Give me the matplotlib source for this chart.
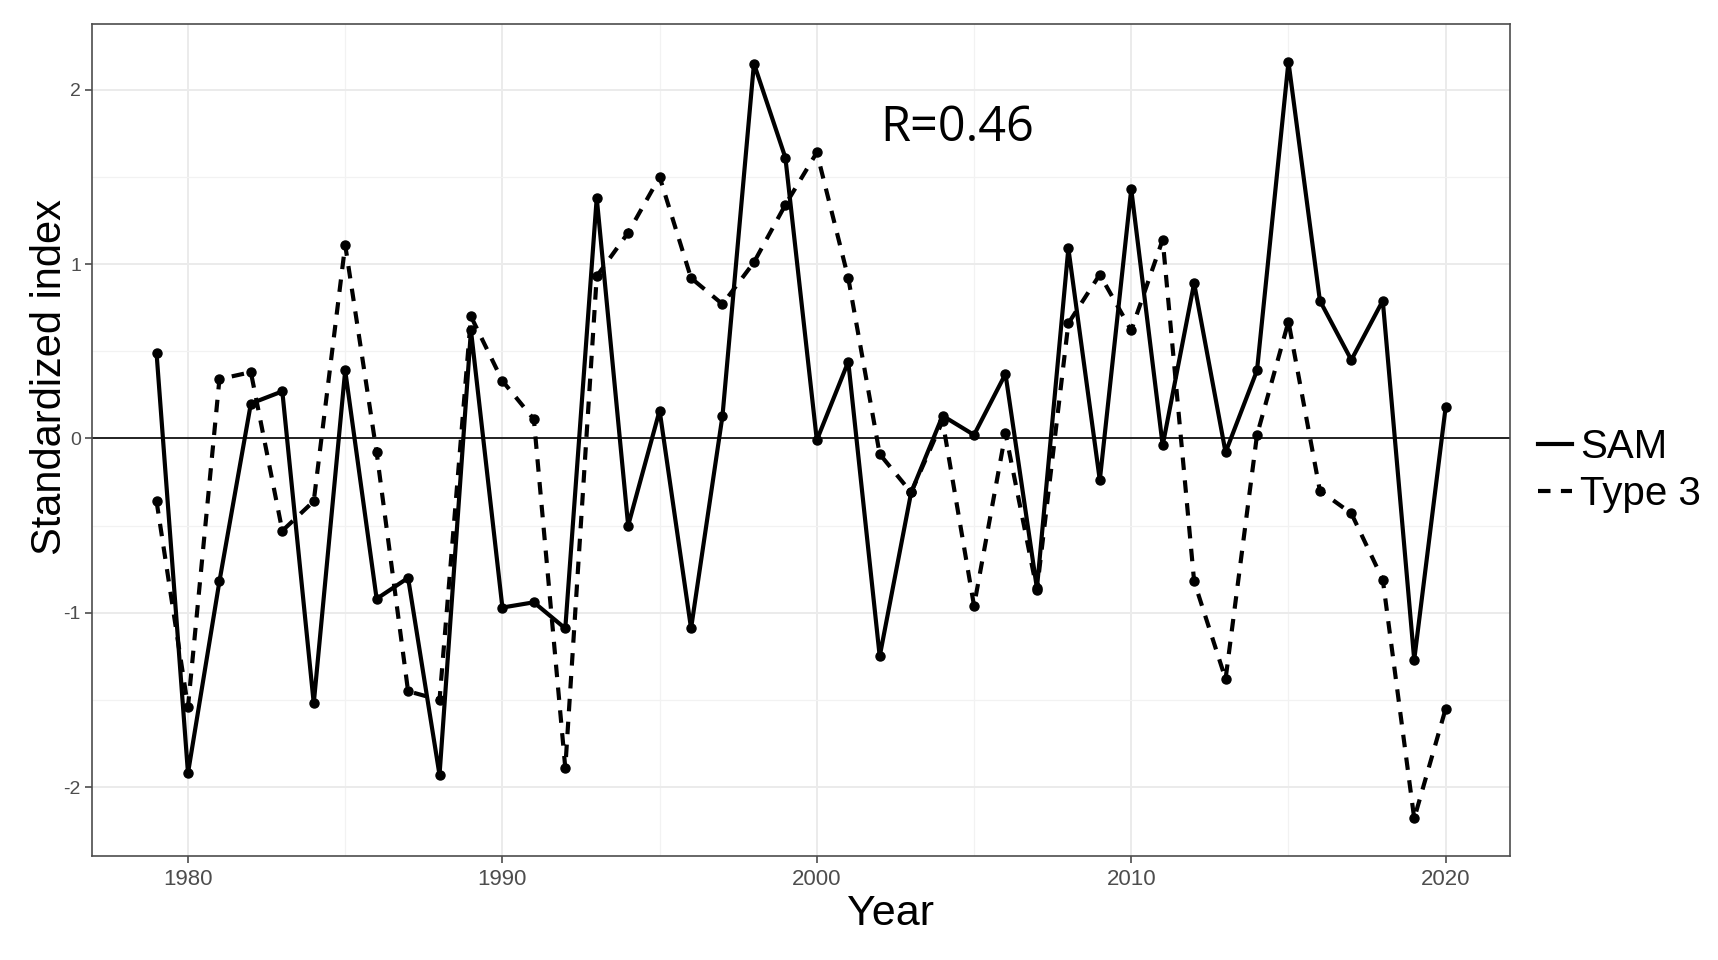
import matplotlib.pyplot as plt
from matplotlib.lines import Line2D
from matplotlib.ticker import MultipleLocator

# Annual series 1979-2020
years = list(range(1979, 2021))
sam = [0.49, -1.92, -0.82, 0.20, 0.27, -1.52, 0.39, -0.92, -0.80, -1.93,
       0.62, -0.97, -0.94, -1.09, 1.38, -0.50, 0.16, -1.09, 0.13, 2.15,
       1.61, -0.01, 0.44, -1.25, -0.31, 0.13, 0.02, 0.37, -0.86, 1.09,
       -0.24, 1.43, -0.04, 0.89, -0.08, 0.39, 2.16, 0.79, 0.45, 0.79,
       -1.27, 0.18]
type3 = [-0.36, -1.54, 0.34, 0.38, -0.53, -0.36, 1.11, -0.08, -1.45, -1.50,
         0.70, 0.33, 0.11, -1.89, 0.93, 1.18, 1.50, 0.92, 0.77, 1.01,
         1.34, 1.64, 0.92, -0.09, -0.31, 0.10, -0.96, 0.03, -0.87, 0.66,
         0.94, 0.62, 1.14, -0.82, -1.38, 0.02, 0.67, -0.30, -0.43, -0.81,
         -2.18, -1.55]
series_labels = ['SAM', 'Type 3']
r_label = 'R=0.46'

plt.rcParams['font.family'] = ['Liberation Sans', 'DejaVu Sans']
plt.rcParams['axes.unicode_minus'] = False

fig = plt.figure(figsize=(17.18, 9.6), dpi=100)
ax = fig.add_axes([0.0536, 0.108, 0.8254, 0.867])

dash = (0, (3, 2.5))
ax.plot(years, sam, color='black', lw=3.0, marker='o', ms=6.5, zorder=3)
ax.plot(years, type3, color='black', lw=3.0, ls=dash, marker='o', ms=6.5, zorder=3)
ax.axhline(0, color='black', lw=1.2, zorder=2)

ax.text(2004.48, 1.705, r_label, fontsize=35, family=['Open Sans', 'DejaVu Sans'],
        ha='center', va='baseline')

ax.set_xlim(1976.95, 2022.05)
ax.set_ylim(-2.397, 2.377)
ax.xaxis.set_major_locator(MultipleLocator(10))
ax.xaxis.set_minor_locator(MultipleLocator(5))
ax.yaxis.set_major_locator(MultipleLocator(1))
ax.yaxis.set_minor_locator(MultipleLocator(0.5))
ax.grid(which='major', color='#ebebeb', lw=1.4, zorder=0)
ax.grid(which='minor', color='#f2f2f2', lw=0.9, zorder=0)
ax.set_axisbelow(True)
ax.tick_params(which='major', length=5, color='#4d4d4d', labelcolor='#4d4d4d', width=1.2)
ax.tick_params(axis='x', which='major', labelsize=16, pad=4)
ax.tick_params(axis='y', which='major', labelsize=14, pad=3)
ax.tick_params(which='minor', length=0)
for s in ax.spines.values():
    s.set_color('#4d4d4d')
    s.set_linewidth(1.2)

ax.set_xlabel('Year', fontsize=31)
ax.set_ylabel('Standardized index', fontsize=30)
ax.xaxis.set_label_coords(0.563, -0.045)
ax.yaxis.set_label_coords(-0.0155, 0.576)

handles = [Line2D([0], [0], color='black', lw=3.0),
           Line2D([0], [0], color='black', lw=3.0, ls=dash)]
fig.legend(handles, series_labels, loc='center left', bbox_to_anchor=(0.895, 0.51),
           frameon=False, fontsize=29, handlelength=0.85,
           handletextpad=0.2, labelspacing=0.22, borderpad=0, borderaxespad=0)

fig.savefig('out.png', dpi=100)
